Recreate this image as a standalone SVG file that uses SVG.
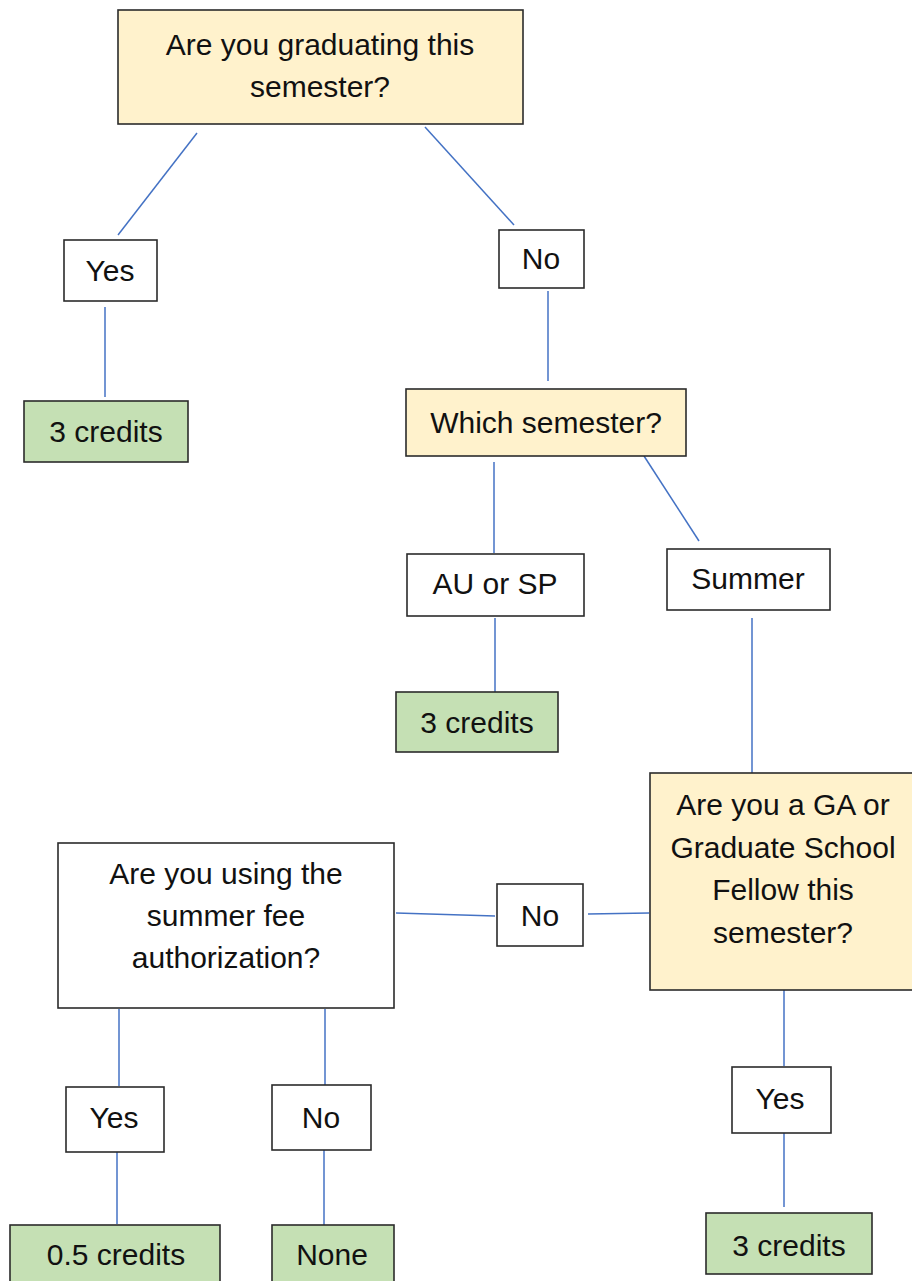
<svg xmlns="http://www.w3.org/2000/svg" width="912" height="1281" viewBox="0 0 912 1281">
<style>
  .box{stroke:#2b2b2b;stroke-width:1.6}
  .q{fill:#FFF2CC}
  .a{fill:#FFFFFF}
  .r{fill:#C5E0B4}
  .t{font-family:"Liberation Sans",Arial,sans-serif;font-size:30px;fill:#111;text-anchor:middle}
  .c{stroke:#4472C4;stroke-width:1.5;fill:none}
</style>
<rect width="912" height="1281" fill="#fff"/>
<g id="connectors">
  <line class="c" x1="197" y1="133" x2="118" y2="235"/>
  <line class="c" x1="425" y1="127" x2="514" y2="225"/>
  <line class="c" x1="105" y1="307" x2="105" y2="397"/>
  <line class="c" x1="548" y1="291" x2="548" y2="381"/>
  <line class="c" x1="494" y1="462" x2="494" y2="553"/>
  <line class="c" x1="644" y1="456" x2="699" y2="541"/>
  <line class="c" x1="495" y1="618" x2="495" y2="692"/>
  <line class="c" x1="752" y1="618" x2="752" y2="773"/>
  <line class="c" x1="649" y1="913" x2="588" y2="914"/>
  <line class="c" x1="495" y1="916" x2="396" y2="913"/>
  <line class="c" x1="784" y1="990" x2="784" y2="1066"/>
  <line class="c" x1="784" y1="1133" x2="784" y2="1207"/>
  <line class="c" x1="119" y1="1009" x2="119" y2="1086"/>
  <line class="c" x1="325" y1="1009" x2="325" y2="1085"/>
  <line class="c" x1="117" y1="1152" x2="117" y2="1224"/>
  <line class="c" x1="324" y1="1150" x2="324" y2="1226"/>
</g>
<g id="q1">
  <rect class="box q" x="118" y="10" width="405" height="114"/>
  <text class="t" x="320" y="55">Are you graduating this</text>
  <text class="t" x="320" y="97">semester?</text>
</g>
<g id="yes1">
  <rect class="box a" x="64" y="240" width="93" height="61"/>
  <text class="t" x="110" y="281">Yes</text>
</g>
<g id="no1">
  <rect class="box a" x="499" y="230" width="85" height="58"/>
  <text class="t" x="541" y="269">No</text>
</g>
<g id="r1">
  <rect class="box r" x="24" y="401" width="164" height="61"/>
  <text class="t" x="106" y="442">3 credits</text>
</g>
<g id="q2">
  <rect class="box q" x="406" y="389" width="280" height="67"/>
  <text class="t" x="546" y="433">Which semester?</text>
</g>
<g id="ausp">
  <rect class="box a" x="407" y="554" width="177" height="62"/>
  <text class="t" x="495" y="594">AU or SP</text>
</g>
<g id="summer">
  <rect class="box a" x="667" y="549" width="163" height="61"/>
  <text class="t" x="748" y="589">Summer</text>
</g>
<g id="r2">
  <rect class="box r" x="396" y="692" width="162" height="60"/>
  <text class="t" x="477" y="733">3 credits</text>
</g>
<g id="q3">
  <rect class="box q" x="650" y="773" width="265" height="217"/>
  <text class="t" x="783" y="815">Are you a GA or</text>
  <text class="t" x="783" y="858">Graduate School</text>
  <text class="t" x="783" y="900">Fellow this</text>
  <text class="t" x="783" y="943">semester?</text>
</g>
<g id="no2">
  <rect class="box a" x="497" y="884" width="86" height="62"/>
  <text class="t" x="540" y="926">No</text>
</g>
<g id="q4">
  <rect class="box a" x="58" y="843" width="336" height="165"/>
  <text class="t" x="226" y="884">Are you using the</text>
  <text class="t" x="226" y="926">summer fee</text>
  <text class="t" x="226" y="968">authorization?</text>
</g>
<g id="yes2">
  <rect class="box a" x="66" y="1087" width="98" height="65"/>
  <text class="t" x="114" y="1128">Yes</text>
</g>
<g id="no3">
  <rect class="box a" x="272" y="1085" width="99" height="65"/>
  <text class="t" x="321" y="1128">No</text>
</g>
<g id="yes3">
  <rect class="box a" x="732" y="1067" width="99" height="66"/>
  <text class="t" x="780" y="1109">Yes</text>
</g>
<g id="r3">
  <rect class="box r" x="10" y="1225" width="210" height="70"/>
  <text class="t" x="116" y="1265">0.5 credits</text>
</g>
<g id="r4">
  <rect class="box r" x="272" y="1225" width="122" height="70"/>
  <text class="t" x="332" y="1265">None</text>
</g>
<g id="r5">
  <rect class="box r" x="706" y="1213" width="166" height="61"/>
  <text class="t" x="789" y="1256">3 credits</text>
</g>
</svg>
